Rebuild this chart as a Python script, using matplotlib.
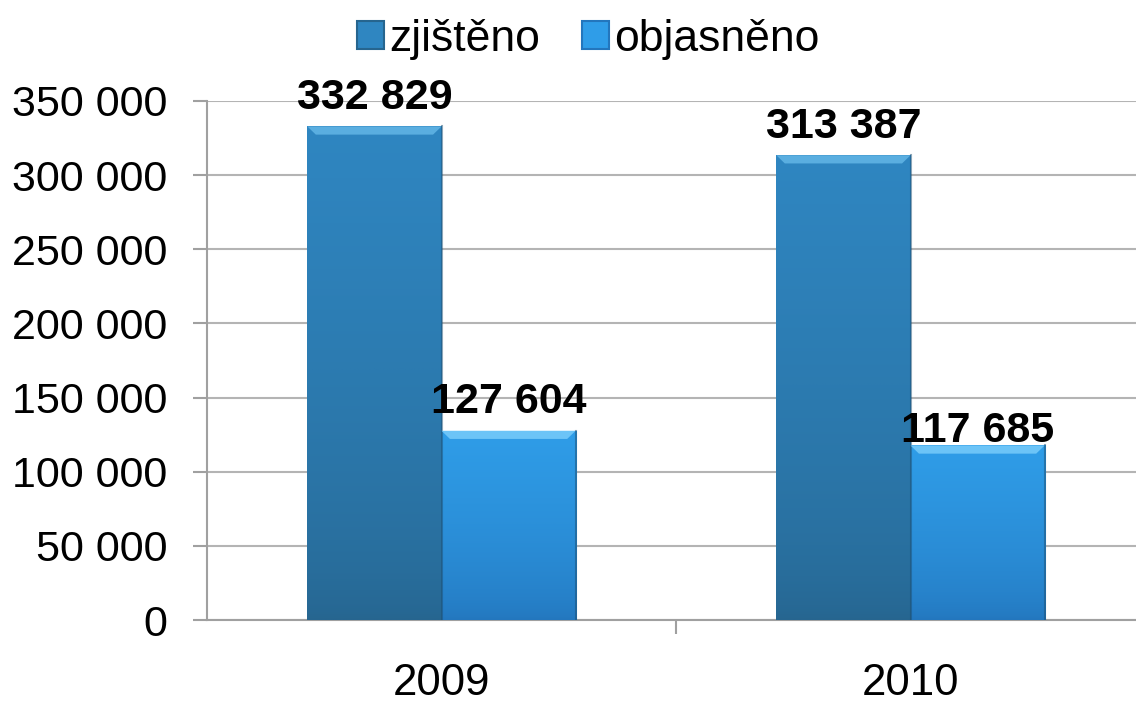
import numpy as np
import matplotlib.pyplot as plt
from matplotlib.patches import Patch, Polygon
from matplotlib.colors import LinearSegmentedColormap

plt.rcParams['font.family'] = ['Liberation Sans', 'DejaVu Sans']

years = ['2009', '2010']
series = ['zjištěno', 'objasněno']
zjisteno = [332829, 313387]
objasneno = [127604, 117685]

# gradient top / bottom colours per series
grad = [('#2f86c1', '#26658f'), ('#2f9de8', '#2376bd')]
bevel = ['#5aaee0', '#6cc4f7']
label_dy = [[6, 6], [6, -4]]

fig = plt.figure(figsize=(11.36, 7.02), dpi=100)
ax = fig.add_axes([207 / 1136, 82 / 702, 938 / 1136, 519 / 702])

x = np.arange(len(years))
w = 0.286
ramp = np.linspace(0, 1, 256).reshape(-1, 1) ** 0.6

for i, vals in enumerate([zjisteno, objasneno]):
    top, bot = grad[i]
    cmap = LinearSegmentedColormap.from_list('g%d' % i, [bot, top])
    offs = (i - 0.5) * w
    bars = ax.bar(x + offs, vals, w, color=top, edgecolor='none', zorder=2)
    for j, b in enumerate(bars):
        x0, x1 = b.get_x(), b.get_x() + b.get_width()
        h = b.get_height()
        im = ax.imshow(ramp, cmap=cmap, aspect='auto', origin='lower',
                       extent=[x0, x1, 0, h], zorder=3)
        im.set_clip_path(b)
        # bevel at top
        bh, bw = 5500, 0.018
        ax.add_patch(Polygon([[x0, h], [x1, h], [x1 - bw, h - bh], [x0 + bw, h - bh]],
                             closed=True, facecolor=bevel[i], edgecolor='none', zorder=4))
        ax.plot([x1, x1], [0, h], color='#1d4f73', lw=1.5, alpha=0.5, zorder=4)
        ax.annotate(f'{vals[j]:,}'.replace(',', ' '), (x0 + w / 2, h),
                    xytext=(0, label_dy[i][j]), textcoords='offset points',
                    ha='center', va='bottom', fontsize=31, fontweight='bold', zorder=5)

ax.set_xlim(-0.5, 1.5)
ax.set_ylim(0, 350000)
ax.set_yticks(np.arange(0, 350001, 50000))
ax.set_yticklabels([f'{v:,}'.replace(',', ' ') for v in range(0, 350001, 50000)], fontsize=31)
ax.set_xticks(x)
ax.set_xticklabels(years, fontsize=31.5)
ax.set_xticks([0.5], minor=True)
ax.tick_params(axis='x', which='major', length=0, pad=31)
ax.tick_params(axis='x', which='minor', length=10, color='#a0a0a0', width=1.5)
ax.tick_params(axis='y', length=10, color='#a0a0a0', width=1.5, pad=18.5)
ax.yaxis.grid(True, color='#b4b4b4', lw=1.5, zorder=0)
ax.set_axisbelow(True)
for s in ['top', 'right']:
    ax.spines[s].set_visible(False)
for s in ['left', 'bottom']:
    ax.spines[s].set_color('#a0a0a0')
    ax.spines[s].set_linewidth(1.5)

handles = [Patch(facecolor=grad[k][0], edgecolor=grad[k][1], lw=1.5) for k in range(2)]
fig.legend(handles, series, loc='upper center', bbox_to_anchor=(0.518, 1.03), ncol=2,
           frameon=False, fontsize=32, handlelength=0.6, handleheight=0.6,
           handletextpad=0.12, columnspacing=0.95)

fig.savefig('out.png', dpi=100)
